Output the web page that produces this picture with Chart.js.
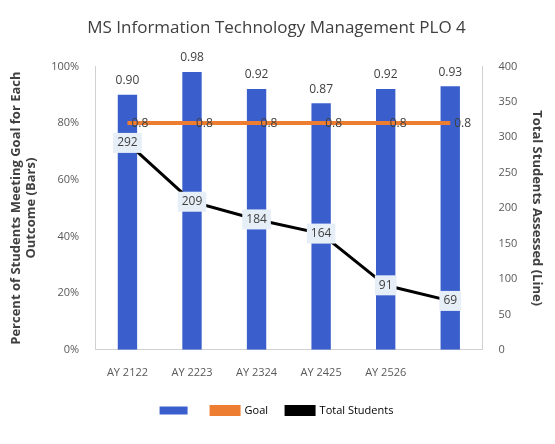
<!DOCTYPE html>
<html>
<head>
<meta charset="utf-8">
<script src="https://cdn.jsdelivr.net/npm/chart.js@4"></script>
<style>
  body { margin: 0; background: #fff; }
  #wrap { width: 555px; height: 444px; }
</style>
</head>
<body>
<div id="wrap"><canvas id="plo"></canvas></div>
<script>
const categories = ['AY 2122', 'AY 2223', 'AY 2324', 'AY 2425', 'AY 2526', ''];
const meetingGoal = [0.90, 0.98, 0.92, 0.87, 0.92, 0.93];
const goal = [0.8, 0.8, 0.8, 0.8, 0.8, 0.8];
const totalStudents = [292, 209, 184, 164, 91, 69];

// draws the value labels (no datalabels plugin available)
const valueLabels = {
    id: 'valueLabels',
    afterDatasetsDraw(chart) {
        const ctx = chart.ctx;
        ctx.save();
        ctx.font = '12px "Open Sans", sans-serif';
        ctx.textBaseline = 'middle';
        chart.data.datasets.forEach((ds, i) => {
            const meta = chart.getDatasetMeta(i);
            meta.data.forEach((el, j) => {
                const v = ds.data[j];
                if (i === 0) {
                    ctx.fillStyle = '#404040';
                    ctx.textAlign = 'center';
                    ctx.fillText(v.toFixed(2), el.x, el.y - 14);
                } else if (i === 1) {
                    ctx.fillStyle = '#404040';
                    ctx.textAlign = 'left';
                    ctx.fillText('0.8', el.x + 4, el.y);
                } else {
                    const t = String(v);
                    const w = ctx.measureText(t).width + 8;
                    ctx.fillStyle = '#e6eef7';
                    ctx.fillRect(el.x - w / 2, el.y - 10, w, 20);
                    ctx.fillStyle = '#404040';
                    ctx.textAlign = 'center';
                    ctx.fillText(t, el.x, el.y);
                }
            });
        });
        ctx.restore();
    }
};

Chart.defaults.font.family = '"Open Sans", sans-serif';
Chart.defaults.color = '#595959';

new Chart(document.getElementById('plo'), {
    type: 'bar',
    data: {
        labels: categories,
        datasets: [{
            label: '',
            data: meetingGoal,
            backgroundColor: '#3a5fcd',
            yAxisID: 'y',
            barPercentage: 0.3,
            categoryPercentage: 1,
            order: 3
        }, {
            type: 'line',
            label: 'Goal',
            data: goal,
            borderColor: '#ed7d31',
            backgroundColor: '#ed7d31',
            borderWidth: 4,
            pointRadius: 0,
            yAxisID: 'y',
            order: 2
        }, {
            type: 'line',
            label: 'Total Students',
            data: totalStudents,
            borderColor: '#000',
            backgroundColor: '#000',
            borderWidth: 3,
            pointRadius: 0,
            yAxisID: 'y1',
            order: 1
        }]
    },
    options: {
        responsive: true,
        maintainAspectRatio: false,
        animation: false,
        layout: { padding: { left: 4, right: 6, top: 10, bottom: 18 } },
        plugins: {
            title: {
                display: true,
                text: 'MS Information Technology Management PLO 4',
                font: { size: 17, weight: 'normal' },
                color: '#404040',
                padding: { top: 8, bottom: 28 }
            },
            legend: {
                position: 'bottom',
                labels: {
                    font: { size: 11 },
                    boxWidth: 28,
                    boxHeight: 8,
                    padding: 18,
                    generateLabels(chart) {
                        return [
                            { text: '', fillStyle: '#3a5fcd', strokeStyle: '#3a5fcd', lineWidth: 0, datasetIndex: 0 },
                            { text: 'Goal', fillStyle: '#ed7d31', strokeStyle: '#ed7d31', lineWidth: 3, pointStyle: 'line', datasetIndex: 1 },
                            { text: 'Total Students', fillStyle: '#000', strokeStyle: '#000', lineWidth: 3, pointStyle: 'line', datasetIndex: 2 }
                        ];
                    }
                }
            },
            tooltip: { enabled: false }
        },
        scales: {
            x: {
                grid: { display: false },
                border: { color: '#d0d0d0' },
                ticks: { font: { size: 11 }, padding: 8 }
            },
            y: {
                min: 0, max: 1,
                ticks: { stepSize: 0.2, callback: v => Math.round(v * 100) + '%', font: { size: 11 }, padding: 8 },
                grid: { display: false },
                border: { color: '#d0d0d0' },
                title: {
                    display: true,
                    text: ['Percent of Students Meeting Goal for Each', 'Outcome (Bars)'],
                    font: { size: 13, weight: 'bold' },
                    color: '#404040'
                }
            },
            y1: {
                position: 'right',
                min: 0, max: 400,
                ticks: { stepSize: 50, font: { size: 11 }, padding: 8 },
                grid: { display: false },
                border: { color: '#d0d0d0' },
                title: {
                    display: true,
                    text: 'Total Students Assessed (Line)',
                    font: { size: 13, weight: 'bold' },
                    color: '#404040'
                }
            }
        }
    },
    plugins: [valueLabels]
});
</script>
</body>
</html>
